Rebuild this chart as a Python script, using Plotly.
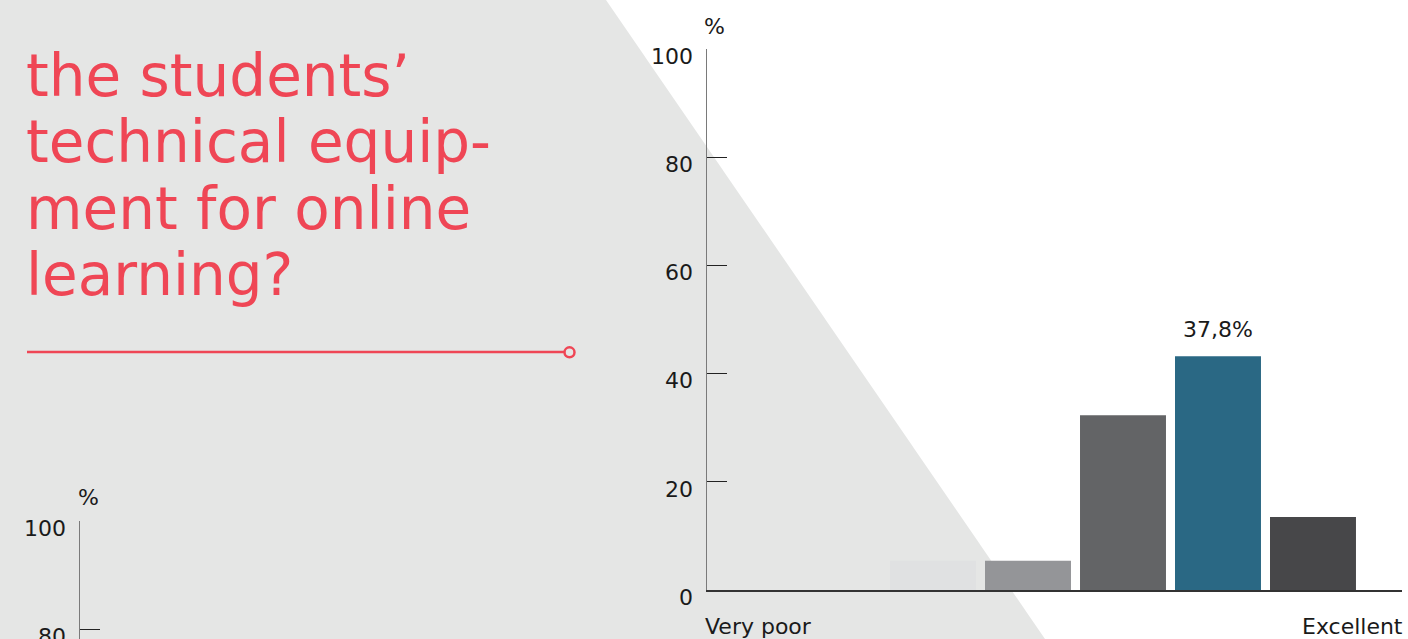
import plotly.graph_objects as go

W, H = 1408, 639

# ---- data ----
categories = [1, 2, 3, 4, 5, 6, 7]
values = [0, 0, 5.4, 5.4, 32.3, 43.2, 13.5]
bar_colors = ["#e0e1e2", "#e0e1e2", "#e0e1e2", "#949598", "#636466", "#2a6884", "#474749"]
highlight_index = 5
highlight_label = "37,8%"
end_labels = ["Very poor", "Excellent"]
y_ticks = [0, 20, 40, 60, 80, 100]
title_lines = ["the students’", "technical equip-", "ment for online", "learning?"]

RED = "#ef4655"
BG_GRAY = "#e5e6e5"
TICK_FONT = dict(family="DejaVu Sans", size=22, color="#1a1a1a")


def px_x(p):
    return p / W


def px_y(p):
    return 1 - p / H


x_range = [0.621, 7.937]

fig = go.Figure()
fig.add_trace(go.Bar(
    x=categories, y=values, marker=dict(color=bar_colors, line=dict(width=0)),
    hoverinfo="skip", showlegend=False, xaxis="x", yaxis="y",
))

y_axis_style = dict(
    showgrid=False, zeroline=False,
    showline=True, linecolor="#7a7a7a", linewidth=1.5,
    tickmode="array", tickvals=y_ticks, ticktext=[str(v) for v in y_ticks],
    ticks="inside", ticklen=20, tickcolor="#222222", tickwidth=1.2,
    tickfont=TICK_FONT, ticklabelstandoff=8, ticklabelposition="outside",
    ticklabelshift=7, ticklabeloverflow="allow", fixedrange=True,
)

layout = dict(
    width=W, height=H, autosize=False,
    margin=dict(l=0, r=0, t=0, b=0, pad=0, autoexpand=False),
    paper_bgcolor="white",
    plot_bgcolor="rgba(0,0,0,0)",
    bargap=0.095,
    showlegend=False,
    xaxis=dict(
        domain=[px_x(707), px_x(1402)], range=x_range, showgrid=False, zeroline=False,
        showline=True, linecolor="#333333", linewidth=1.5,
        tickmode="array", tickvals=[x_range[1] - 0.001], ticktext=[""],
        ticks="inside", ticklen=12, tickcolor="#333333", tickwidth=1.5,
        showticklabels=False, fixedrange=True,
    ),
    yaxis=dict(domain=[px_y(590), px_y(49)], range=[0, 100], **y_axis_style),
    # second (cut-off) chart at bottom-left
    xaxis2=dict(
        domain=[px_x(80), px_x(600)], range=[0, 1], visible=False, anchor="y2",
    ),
    yaxis2=dict(domain=[0, px_y(521)], range=[100 - (639 - 521) / 5.41, 100],
                anchor="x2", **y_axis_style),
)
fig.update_layout(**layout)
fig.add_trace(go.Scatter(x=[], y=[], xaxis="x2", yaxis="y2", showlegend=False))

shapes = [
    dict(type="path", xref="paper", yref="paper",
         path=f"M 0,1 L {px_x(606)},1 L {px_x(1045)},0 L 0,0 Z",
         fillcolor=BG_GRAY, line=dict(width=0), layer="below"),
    dict(type="line", xref="paper", yref="paper",
         x0=px_x(27), x1=px_x(564), y0=px_y(352), y1=px_y(352),
         line=dict(color=RED, width=2.5)),
    dict(type="circle", xref="paper", yref="paper",
         x0=px_x(564.5), x1=px_x(574.5), y0=px_y(347.3), y1=px_y(357.3),
         line=dict(color=RED, width=2.5), fillcolor=BG_GRAY),
]
fig.update_layout(shapes=shapes)

annotations = []
# title lines
baselines = [97, 163, 230, 296]
for line, b in zip(title_lines, baselines):
    annotations.append(dict(
        text=line, xref="paper", yref="paper", x=px_x(24), y=px_y(b - 21),
        xanchor="left", yanchor="middle", showarrow=False,
        font=dict(family="DejaVu Sans", size=58, color=RED),
    ))
# % labels
annotations.append(dict(text="%", xref="paper", yref="paper", x=px_x(714), y=px_y(27),
                        xanchor="center", yanchor="middle", showarrow=False, font=TICK_FONT))
annotations.append(dict(text="%", xref="paper", yref="paper", x=px_x(88), y=px_y(497),
                        xanchor="center", yanchor="middle", showarrow=False, font=TICK_FONT))
# end labels
annotations.append(dict(text=end_labels[0], xref="paper", yref="paper", x=px_x(703), y=px_y(626),
                        xanchor="left", yanchor="middle", showarrow=False, font=TICK_FONT))
annotations.append(dict(text=end_labels[1], xref="paper", yref="paper", x=px_x(1405), y=px_y(626),
                        xanchor="right", yanchor="middle", showarrow=False, font=TICK_FONT))
# highlight value label
annotations.append(dict(text=highlight_label, x=categories[highlight_index], y=values[highlight_index],
                        xref="x", yref="y", yanchor="bottom", yshift=12, showarrow=False,
                        font=TICK_FONT))
fig.update_layout(annotations=annotations)

post = (
    "document.documentElement.style.overflow='hidden';"
    "document.body.style.margin='0';document.body.style.overflow='hidden';"
    "var gd=document.getElementById('{plot_id}');"
    "gd.style.position='fixed';gd.style.left='0px';gd.style.top='0px';"
)
fig.write_html("out.html", post_script=post,
               config={"responsive": False, "displayModeBar": False, "staticPlot": True})
